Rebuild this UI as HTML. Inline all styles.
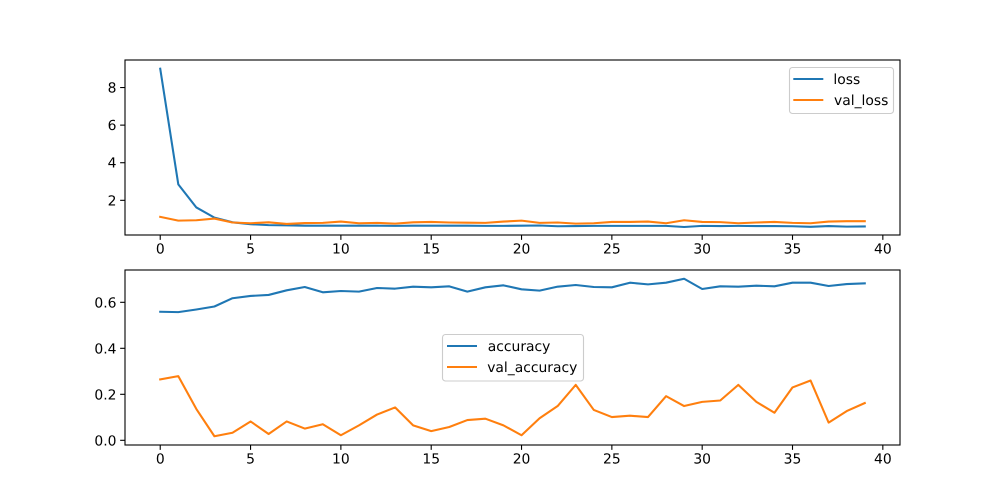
<!DOCTYPE html>
<html lang="en">
<head>
<meta charset="utf-8">
<title>Training history chart</title>
<style>
html,body{margin:0;padding:0;background:#fff;width:1000px;height:500px;overflow:hidden}
svg{display:block}
text{font-family:"DejaVu Sans",sans-serif;font-size:13.89px;fill:#000;text-rendering:geometricPrecision}
</style>
</head>
<body>
<svg id="chart" xmlns="http://www.w3.org/2000/svg" width="1000" height="500" viewBox="0 0 1000 500">
  <rect x="0" y="0" width="1000" height="500" fill="#fff"/>
  <g id="loss-panel"></g>
  <g id="accuracy-panel"></g>

  <g>
    <rect x="789.5" y="67.5" width="104" height="46" rx="3" fill="#fff" fill-opacity="0.8" stroke="#ccc" stroke-width="1.1"/>
    <line x1="793.3" x2="823.3" y1="79" y2="79" stroke="#1f77b4" stroke-width="2.08"/>
    <text x="833.4" y="84">loss</text>
    <line x1="793.3" x2="823.3" y1="100" y2="100" stroke="#ff7f0e" stroke-width="2.08"/>
    <text x="834" y="105">val_loss</text>
  </g>

  <g>
    <rect x="442.5" y="334.5" width="141" height="46.5" rx="3" fill="#fff" fill-opacity="0.8" stroke="#ccc" stroke-width="1.1"/>
    <line x1="447" x2="477" y1="346" y2="346" stroke="#1f77b4" stroke-width="2.08"/>
    <text x="487.8" y="351">accuracy</text>
    <line x1="447" x2="477" y1="367" y2="367" stroke="#ff7f0e" stroke-width="2.08"/>
    <text x="487.2" y="372">val_accuracy</text>
  </g>
</svg>
<script>
const epochs = [0,1,2,3,4,5,6,7,8,9,10,11,12,13,14,15,16,17,18,19,20,21,22,23,24,25,26,27,28,29,30,31,32,33,34,35,36,37,38,39];
const loss = [9.0,2.85,1.62,1.08,0.83,0.73,0.68,0.67,0.65,0.65,0.65,0.65,0.65,0.64,0.65,0.65,0.65,0.65,0.64,0.64,0.65,0.66,0.62,0.63,0.64,0.64,0.64,0.64,0.64,0.58,0.64,0.63,0.64,0.63,0.63,0.62,0.59,0.63,0.6,0.61];
const valLoss = [1.12,0.92,0.94,1.03,0.82,0.78,0.83,0.745,0.79,0.8,0.87,0.78,0.8,0.76,0.83,0.85,0.82,0.81,0.8,0.87,0.92,0.8,0.82,0.76,0.78,0.85,0.85,0.87,0.78,0.94,0.85,0.84,0.78,0.82,0.85,0.8,0.78,0.87,0.89,0.89];
const accuracy = [0.5588,0.5574,0.5689,0.5818,0.6177,0.6278,0.6321,0.6522,0.6666,0.6436,0.6493,0.6465,0.6623,0.6594,0.668,0.6652,0.6695,0.6465,0.6652,0.6738,0.6565,0.6508,0.668,0.6752,0.6666,0.6652,0.6853,0.6781,0.6853,0.7025,0.658,0.6695,0.668,0.6723,0.6695,0.6853,0.6853,0.6709,0.6795,0.6824];
const valAccuracy = [0.265,0.279,0.136,0.0176,0.033,0.082,0.0274,0.082,0.051,0.07,0.022,0.065,0.112,0.143,0.065,0.04,0.058,0.088,0.094,0.065,0.022,0.096,0.149,0.241,0.132,0.101,0.107,0.101,0.192,0.149,0.167,0.173,0.241,0.167,0.12,0.23,0.26,0.077,0.127,0.162];
const xTicks = [0,5,10,15,20,25,30,35,40];
const lossTicks = [2,4,6,8];
const accuracyTicks = [0.0,0.2,0.4,0.6];

const NS = 'http://www.w3.org/2000/svg';
const plotLeft = 125, plotRight = 900;
const xScale = v => plotLeft + (v + 1.95) / 42.9 * (plotRight - plotLeft);

function axisY(top, bottom, lo, hi) {
  return v => bottom - (v - lo) / (hi - lo) * (bottom - top);
}
function make(parent, tag, attrs) {
  const el = document.createElementNS(NS, tag);
  for (const k in attrs) el.setAttribute(k, attrs[k]);
  parent.appendChild(el);
  return el;
}
function drawLine(parent, xs, ys, yScale, color) {
  const pts = xs.map((x, i) => xScale(x).toFixed(2) + ',' + yScale(ys[i]).toFixed(2)).join(' ');
  return make(parent, 'polyline', {points: pts, fill: 'none', stroke: color, 'stroke-width': 2.08, 'stroke-linejoin': 'round', 'stroke-linecap': 'square'});
}
function drawAxes(parent, top, bottom, yScale, yTicks, fmt) {
  xTicks.forEach(t => {
    const x = xScale(t);
    const mark = make(parent, 'line', {x1: x, x2: x, y1: bottom, y2: bottom + 4.86, stroke: '#000', 'stroke-width': 1.1});
    
    
    const label = make(parent, 'text', {x: x, y: bottom + 18.5, 'text-anchor': 'middle'});
    label.textContent = String(t);
    
    
  });
  yTicks.forEach(t => {
    const y = yScale(t);
    const mark = make(parent, 'line', {x1: plotLeft - 4.86, x2: plotLeft, y1: y, y2: y, stroke: '#000', 'stroke-width': 1.1});
    
    
    const label = make(parent, 'text', {x: plotLeft - 8.5, y: y + 5, 'text-anchor': 'end'});
    label.textContent = fmt(t);
    
    
  });
  const frame = make(parent, 'rect', {x: plotLeft, y: top, width: plotRight - plotLeft, height: bottom - top, fill: 'none', stroke: '#000', 'stroke-width': 1.1});
  
  
}

const lossPanel = document.getElementById('loss-panel');
const lossY = axisY(60, 235, 0.155, 9.465);
const lossLine = drawLine(lossPanel, epochs, loss, lossY, '#1f77b4');


const valLossLine = drawLine(lossPanel, epochs, valLoss, lossY, '#ff7f0e');


drawAxes(lossPanel, 60, 235, lossY, lossTicks, t => String(t));

const accuracyPanel = document.getElementById('accuracy-panel');
const accuracyY = axisY(270, 445, -0.0204, 0.7405);
const accuracyLine = drawLine(accuracyPanel, epochs, accuracy, accuracyY, '#1f77b4');


const valAccuracyLine = drawLine(accuracyPanel, epochs, valAccuracy, accuracyY, '#ff7f0e');


drawAxes(accuracyPanel, 270, 445, accuracyY, accuracyTicks, t => t.toFixed(1));
</script>
</body>
</html>
